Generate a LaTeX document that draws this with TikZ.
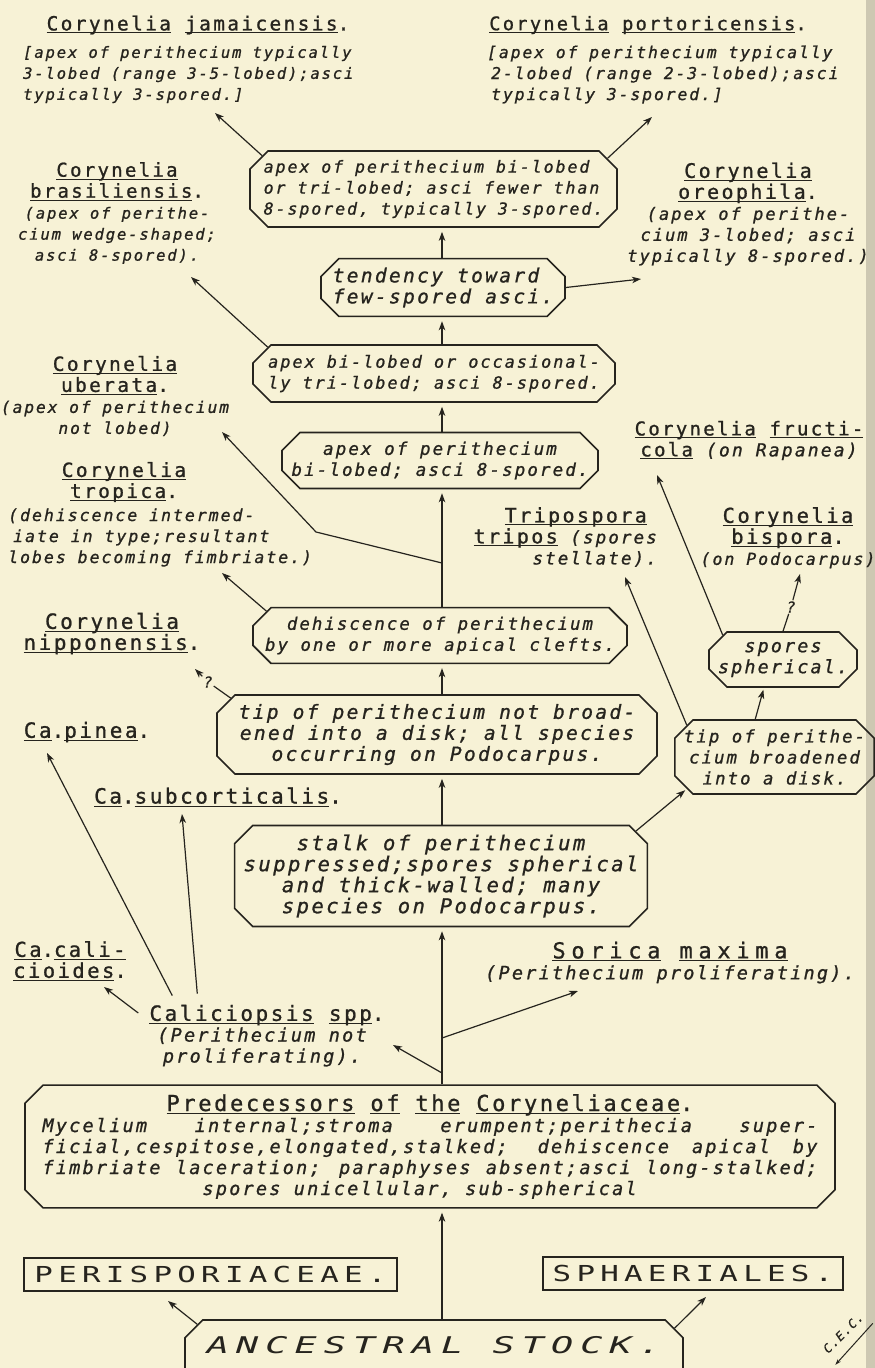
\documentclass[tikz,border=0pt]{standalone}
\usepackage{fontspec}
\usetikzlibrary{arrows.meta,shapes.misc,calc}
\newfontfamily\lett{DejaVu Sans Mono}[LetterSpace=12,FakeBold=1]
\newfontfamily\capsf{DejaVu Sans Mono}[FakeStretch=1.4,LetterSpace=24]
\newfontfamily\ancf{DejaVu Sans Mono}[FakeStretch=1.6,LetterSpace=31]
\definecolor{bg}{RGB}{247,242,214}
\definecolor{ink}{RGB}{38,36,30}
\definecolor{band}{RGB}{205,200,178}
\newcommand{\uln}[1]{\leavevmode\setbox0=\hbox{#1}\rlap{\rule[-3pt]{\wd0}{1pt}}\box0\relax}
\newcommand{\tfs}[1]{\lett\fontsize{#1}{21}\selectfont\upshape}
\newcommand{\dfs}[1]{\lett\fontsize{#1}{21}\selectfont\itshape}
\newcommand{\T}[2]{{\tfs{#1}#2}}
\newcommand{\jl}[1]{\makebox[775pt][s]{\spaceskip=0.5em plus 4em\relax #1}}
\begin{document}
\begin{tikzpicture}[x=1pt,y=-1pt]
\tikzset{
 box/.style={chamfered rectangle, chamfered rectangle xsep=9pt, chamfered rectangle ysep=9pt, draw=ink, line width=1.6pt, inner sep=0pt, text=ink},
 rbox/.style={rectangle, draw=ink, line width=1.6pt, inner sep=0pt, text=ink},
 arr/.style={draw=ink, line width=1.2pt, -{Stealth[length=9pt,width=6.5pt,inset=2.5pt]}},
 ln/.style={draw=ink, line width=1.2pt},
 lbl/.style={text=ink, inner sep=1pt},
}
\fill[bg] (0,0) rectangle (875,1368);
\path[use as bounding box] (0,0) rectangle (875,1368);
\fill[band] (866,0) rectangle (875,1368);

% ---- species labels ----
\node[lbl,font=\tfs{19.5}] (jamT) at (198,25) {\uln{Corynelia} \uln{jamaicensis}.};
\node[lbl,anchor=west,align=left,font=\dfs{15.5}] (jamD) at (22,74.5) {[apex of perithecium typically\\3-lobed (range 3-5-lobed);asci\\typically 3-spored.]};
\node[lbl,font=\tfs{18.7}] (porT) at (648,25) {\uln{Corynelia} \uln{portoricensis}.};
\node[lbl,anchor=west,align=left,font=\dfs{16.3}] (porD) at (486,74.5) {[apex of perithecium typically\\\hspace*{4pt}2-lobed (range 2-3-lobed);asci\\\hspace*{4pt}typically 3-spored.]};
\node[lbl,align=center,font=\dfs{15.5}] (bra) at (117,213) {\T{19}{\uln{Corynelia}}\\\T{19}{\uln{brasiliensis}.}\\(apex of perithe-\\cium wedge-shaped;\\asci 8-spored).};
\node[lbl,align=center,font=\dfs{17}] (ore) at (748,214) {\T{20}{\uln{Corynelia}}\\\T{20}{\uln{oreophila}.}\\(apex of perithe-\\cium 3-lobed; asci\\typically 8-spored.)};
\node[lbl,align=center,font=\dfs{16.2}] (ube) at (115,396) {\T{19.5}{\uln{Corynelia}}\\\T{19.5}{\uln{uberata}.}\\(apex of perithecium\\not lobed)};
\node[lbl,align=center,font=\dfs{18}] (fru) at (749,440.5) {\T{19}{\uln{Corynelia} \uln{fructi-}}\\\T{19}{\uln{cola}} (on Rapanea)};
\node[lbl,align=center,font=\tfs{19.5}] (troT) at (124,482) {\uln{Corynelia}\\\uln{tropica}.};
\node[lbl,anchor=west,align=left,font=\dfs{16.5}] (troD) at (7,537.5) {(dehiscence intermed-\\\hspace*{5pt}iate in type;resultant\\lobes becoming fimbriate.)};
\node[lbl,anchor=east,align=right,font=\dfs{17.5}] (tri) at (658,537) {\T{20}{\uln{Tripospora}}\hspace*{10pt}\\\T{20}{\uln{tripos}} (spores\\stellate).};
\node[lbl,align=center,font=\dfs{16.5}] (bis) at (788,537.7) {\T{20.5}{\uln{Corynelia}}\\\T{20.5}{\uln{bispora}.}\\(on Podocarpus)};
\node[lbl,align=center,font=\tfs{21}] (nip) at (112,633.5) {\uln{Corynelia}\\\uln{nipponensis}.};
\node[lbl,font=\tfs{21}] (pin) at (87,732) {\uln{Ca}.\uln{pinea}.};
\node[lbl,font=\tfs{21}] (sub) at (218,797) {\uln{Ca}.\uln{subcorticalis}.};
\node[lbl,align=center,font=\tfs{20.5}] (cal) at (70,961) {\uln{Ca}.\uln{cali-}\\\uln{cioides}.};
\node[lbl,font=\tfs{21}] (clsT) at (267,1015) {\uln{Caliciopsis} \uln{spp}.};
\node[lbl,align=center,font=\dfs{18.5}] (clsD) at (262,1047) {(Perithecium not\\proliferating).};
\node[lbl,align=center,font=\dfs{18.5}] (sor) at (670,962.5) {{\tfs{22}\addfontfeature{LetterSpace=26}\uln{Sorica} \uln{maxima}}\\(Perithecium proliferating).};

% ---- boxes ----
\node[box,minimum width=367pt,minimum height=76pt,align=left,font=\dfs{16.5}] (A) at (433.5,189) {apex of perithecium bi-lobed\\or tri-lobed; asci fewer than\\8-spored, typically 3-spored.};
\node[box,minimum width=244pt,minimum height=53pt,align=left,font=\dfs{19.5}] (B) at (443,287.5) {tendency toward\\few-spored asci.};
\node[box,minimum width=362pt,minimum height=57pt,align=left,font=\dfs{16.8}] (C) at (434,373.5) {apex bi-lobed or occasional-\\ly tri-lobed; asci 8-spored.};
\node[box,minimum width=316pt,minimum height=55pt,align=center,font=\dfs{17.5}] (D) at (440,460.5) {apex of perithecium\\bi-lobed; asci 8-spored.};
\node[box,minimum width=374pt,minimum height=55pt,align=center,font=\dfs{17.3}] (E) at (440,635.5) {dehiscence of perithecium\\by one or more apical clefts.};
\node[box,minimum width=440pt,minimum height=75pt,align=center,font=\dfs{19.5}] (F) at (437,734.5) {tip of perithecium not broad-\\ened into a disk; all species\\occurring on Podocarpus.};
\node[box,minimum width=408pt,minimum height=100pt,align=center,font=\dfs{20.5}] (G) at (441,876) {stalk of perithecium\\suppressed;spores spherical\\and thick-walled; many\\species on Podocarpus.};
\node[box,minimum width=195pt,minimum height=74pt,align=center,font=\dfs{17.3}] (H) at (774.5,757) {tip of perithe-\\cium broadened\\into a disk.};
\node[box,minimum width=140pt,minimum height=55pt,align=center,font=\dfs{18.3}] (I) at (783,659.5) {spores\\spherical.};
\node[box,minimum width=810pt,minimum height=121pt,align=center,font=\dfs{18.5}] (J) at (430,1146.5) {\T{22}{\uln{Predecessors} \uln{of} \uln{the} \uln{Coryneliaceae}.}\\
 \jl{Mycelium internal;stroma erumpent;perithecia super-}\\
 \jl{ficial,cespitose,elongated,stalked; dehiscence apical by}\\
 \jl{fimbriate laceration; paraphyses absent;asci long-stalked;}\\
 \makebox[775pt][l]{\hspace*{160pt}spores unicellular, sub-spherical}};
\node[rbox,minimum width=373pt,minimum height=33pt,font={\capsf\fontsize{22}{24}\selectfont}] (PER) at (210.5,1274.5) {PERISPORIACEAE.};
\node[rbox,minimum width=300pt,minimum height=33pt,font={\capsf\fontsize{22}{24}\selectfont}] (SPH) at (693,1273.5) {SPHAERIALES.};
\node[box,chamfered rectangle corners={north west,north east},minimum width=498pt,minimum height=50pt,font={\ancf\fontsize{23}{25}\selectfont\itshape}] (Anc) at (434,1345) {ANCESTRAL STOCK.};

% ---- question marks ----
\node[lbl,font=\dfs{15}] (q1) at (208,682) {?};
\node[lbl,font=\dfs{15}] (q2) at (791,607) {?};

% ---- coordinates ----
\coordinate (sp) at (442,0);
\coordinate (tJam) at (215,113);
\coordinate (tPor) at (652,117);
\coordinate (tOre) at (641,279);
\coordinate (tBra) at (191,277);
\coordinate (jUbe) at (442,563);
\coordinate (bUbe) at (316,532);
\coordinate (tUbe) at (222,432);
\coordinate (tTro) at (222,573);
\coordinate (tNip) at (195,669);
\coordinate (tFru) at (657,475);
\coordinate (tTri) at (625,577);
\coordinate (tBis) at (800,574);
\coordinate (tPin) at (47,753);
\coordinate (tSub) at (182,814);
\coordinate (tCal) at (104,987);
\coordinate (jCls) at (442,1073);
\coordinate (tCls) at (393,1045);
\coordinate (jSor) at (442,1038);
\coordinate (tSor) at (578,991);
\coordinate (tPer) at (168,1301);
\coordinate (tSph) at (706,1297);

% ---- spine ----
\draw[arr,shorten >=4pt] (B.north -| sp) -- (A.south -| sp);
\draw[arr,shorten >=4pt] (C.north -| sp) -- (B.south -| sp);
\draw[arr,shorten >=4pt] (D.north -| sp) -- (C.south -| sp);
\draw[arr,shorten >=4pt] (E.north -| sp) -- (D.south -| sp);
\draw[arr,shorten >=4pt] (F.north -| sp) -- (E.south -| sp);
\draw[arr,shorten >=4pt] (G.north -| sp) -- (F.south -| sp);
\draw[arr,shorten >=4pt] (J.north -| sp) -- (G.south -| sp);
\draw[arr,shorten >=4pt] (Anc.north -| sp) -- (J.south -| sp);

% ---- side branches ----
\draw[arr] (A.169.3) -- (tJam);
\draw[arr] (A.10.7) -- (tPor);
\draw[arr] (B.east) -- (tOre);
\draw[arr] (C.171.8) -- (tBra);
\draw[arr] (jUbe) -- (bUbe) -- (tUbe);
\draw[arr] (E.172.3) -- (tTro);
\draw[ln] (F.170.9) -- (q1);
\draw[arr] (q1) -- (tNip);
\draw[arr,shorten >=2pt] (G.13.2) -- (H.200.1);
\draw[arr] (H.160.2) -- (tTri);
\draw[arr,shorten >=2pt] (H.117.8) -- (I.236.8);
\draw[arr] (I.158.9) -- (tFru);
\draw[ln] (I.north) -- (q2);
\draw[arr] (q2) -- (tBis);
\draw[arr] (jCls) -- (tCls);
\draw[arr] (jSor) -- (tSor);
\draw[arr] ($(clsT.west)+(-10,-2)$) -- (tCal);
\draw[arr] ($(clsT.north west)+(24,-8)$) -- (tPin);
\draw[arr] ($(clsT.north west)+(49,-10)$) -- (tSub);
\draw[arr] (Anc.175.5) -- (tPer);
\draw[arr] (Anc.4.5) -- (tSph);

% ---- signature ----
\node[lbl,rotate=45,font=\dfs{12}] (sig) at (843,1333) {C.E.C.};
\draw[ink,line width=1pt,-{Stealth[length=6pt,width=4pt]}] ($(sig.south east)+(7,5)$) -- ($(sig.south west)+(7,9)$);
\end{tikzpicture}
\end{document}
